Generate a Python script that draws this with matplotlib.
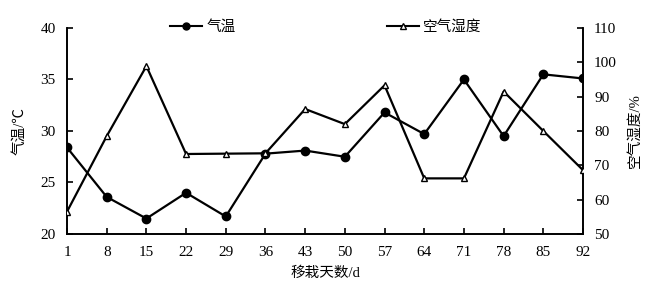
import matplotlib
matplotlib.use('Agg')
import matplotlib.pyplot as plt
from matplotlib.lines import Line2D

plt.rcParams['font.family'] = ['Liberation Serif', 'Noto Sans CJK SC']
plt.rcParams['axes.unicode_minus'] = False

# data
days = [1, 8, 15, 22, 29, 36, 43, 50, 57, 64, 71, 78, 85, 92]
temp = [28.4, 23.6, 21.5, 24.0, 21.7, 27.8, 28.1, 27.5, 31.8, 29.7, 35.0, 29.5, 35.5, 35.1]
humid = [56.5, 78.5, 98.9, 73.3, 73.4, 73.5, 86.4, 82.0, 93.3, 66.2, 66.2, 91.5, 80.0, 68.6]

x = list(range(len(days)))

fig = plt.figure(figsize=(6.66, 2.88), dpi=100)
ax = fig.add_axes([0.1006, 0.1875, 0.7748, 0.7153])
ax2 = ax.twinx()

ax.plot(x, temp, color='black', lw=1.6, marker='o', ms=6, mfc='black', mec='black', zorder=3)
ax2.plot(x, humid, color='black', lw=1.6, marker='^', ms=5, mfc='white', mec='black', mew=1.0, zorder=3)

ax.set_xlim(0, len(days) - 1)
ax.set_ylim(20, 40)
ax2.set_ylim(50, 110)
ax.set_xticks(x)
ax.set_xticklabels([str(d) for d in days])
ax.set_yticks([20, 25, 30, 35, 40])
ax2.set_yticks([50, 60, 70, 80, 90, 100, 110])

for a in (ax, ax2):
    a.spines['top'].set_visible(False)
    for s in a.spines.values():
        s.set_linewidth(1.2)
    a.tick_params(direction='in', length=4, width=1.2, labelsize=11, pad=8)
ax.tick_params(axis='x', pad=9)

ax.set_xlabel('移栽天数/d', fontsize=10.5, labelpad=5)
ax.set_ylabel('气温/℃', fontsize=10.5, labelpad=10)
ax2.set_ylabel('空气湿度/%', fontsize=10.5, labelpad=8, rotation=90)

h1 = Line2D([], [], color='black', lw=1.5, marker='o', ms=5, mfc='black')
h2 = Line2D([], [], color='black', lw=1.5, marker='^', ms=4, mfc='white', mec='black')
leg1 = fig.legend([h1], ['气温'], loc='center left', bbox_to_anchor=(0.235, 0.905),
                  frameon=False, fontsize=10.5, handlelength=2.2, handletextpad=0.3)
leg2 = fig.legend([h2], ['空气湿度'], loc='center left', bbox_to_anchor=(0.561, 0.905),
                  frameon=False, fontsize=10.5, handlelength=2.2, handletextpad=0.3)

fig.savefig('out.png', dpi=100)
